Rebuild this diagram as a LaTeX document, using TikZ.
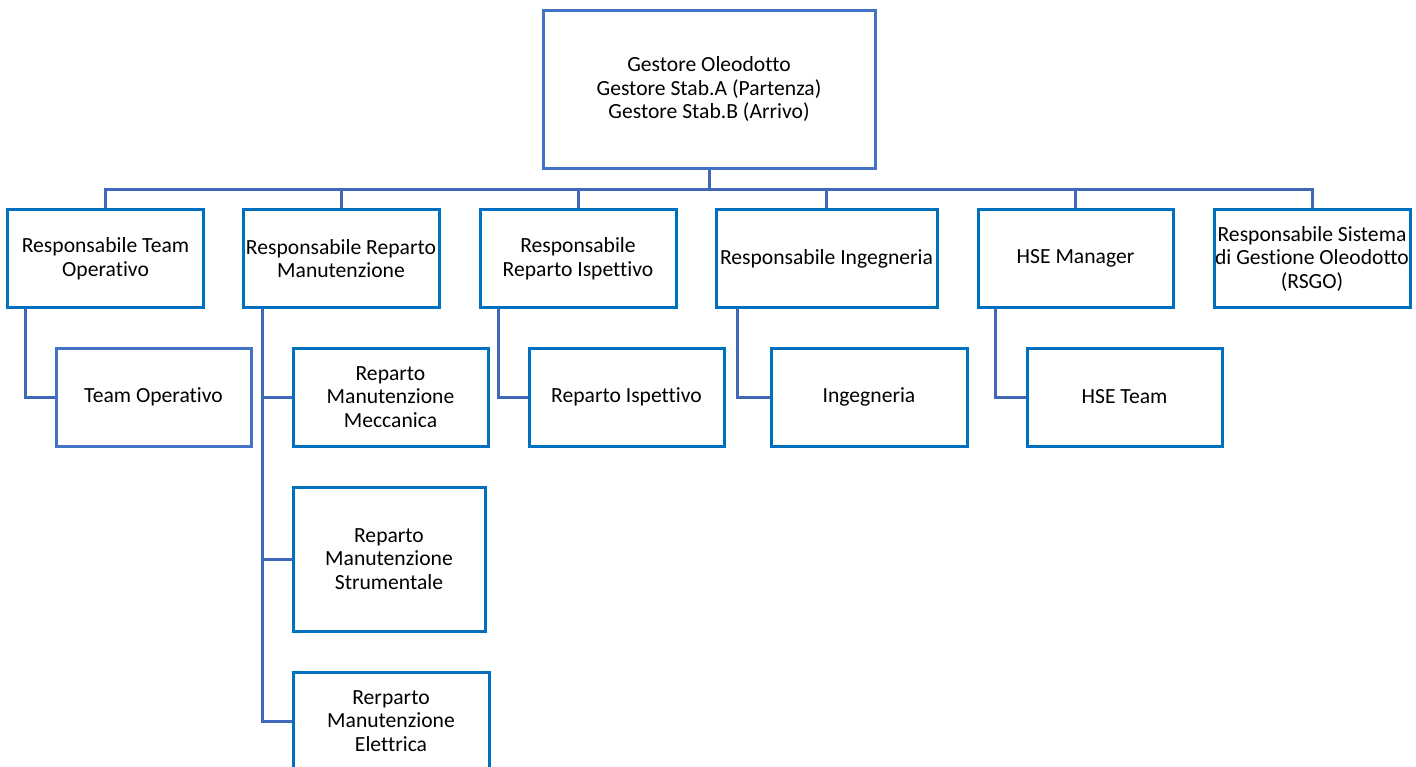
\documentclass[tikz,border=0pt]{standalone}
\usepackage{fontspec}
\setmainfont{Carlito}[Ligatures={NoCommon}]
\definecolor{headblue}{HTML}{4472C4}
\definecolor{boxblue}{HTML}{0070C0}
\definecolor{lineblue}{HTML}{4068B8}
\begin{document}
\begin{tikzpicture}[x=1pt,y=-1pt,
  orgbox/.style={draw=boxblue, line width=3pt, fill=white, inner sep=0pt,
    align=center, minimum width=196pt, minimum height=98pt,
    font=\fontsize{21.6}{23.5}\selectfont},
  headbox/.style={orgbox, draw=headblue},
  link/.style={draw=lineblue, line width=3pt}]
\useasboundingbox (0,0) rectangle (1416,766);
\clip (0,0) rectangle (1416,766);

% management
\node[headbox, minimum width=332pt, minimum height=158pt] (top) at (709,89)
  {Gestore Oleodotto\\Gestore Stab.A (Partenza)\\Gestore Stab.B (Arrivo)};

% first level
\node[orgbox] (r1) at (105.5,258.5) {Responsabile Team\\Operativo};
\node[orgbox] (r2) at (341,258.5) {Responsabile Reparto\\Manutenzione};
\node[orgbox] (r3) at (578,258.5) {Responsabile\\Reparto Ispettivo};
\node[orgbox, minimum width=221pt] (r4) at (826.5,258.5) {Responsabile Ingegneria};
\node[orgbox, minimum width=195pt] (r5) at (1075.5,258.5) {HSE Manager};
\node[orgbox] (r6) at (1312,258.5) {Responsabile Sistema\\di Gestione Oleodotto\\(RSGO)};

% second level
\node[headbox, minimum width=195pt] (c1) at (153.5,397) {Team Operativo};
\node[orgbox, minimum width=195pt] (c2) at (390.5,397) {Reparto\\Manutenzione\\Meccanica};
\node[orgbox, minimum width=192pt, minimum height=144pt] (c3) at (389,559) {Reparto\\Manutenzione\\Strumentale};
\node[orgbox] (c4) at (391,721) {Rerparto\\Manutenzione\\Elettrica};
\node[orgbox, minimum width=195pt] (c5) at (626.5,397) {Reparto Ispettivo};
\node[orgbox] (c6) at (869,397) {Ingegneria};
\node[orgbox, minimum width=195pt] (c7) at (1124.5,397) {HSE Team};

% connectors
\coordinate (bus) at (709,189);
\draw[link] (top.south) -- (bus);
\foreach \r in {r1,r2,r3,r4,r5,r6} \draw[link] (bus) -| (\r.north);

\draw[link] ([xshift=19pt]r1.south west) |- (c1.west);
\foreach \c in {c2,c3,c4} \draw[link] ([xshift=21pt]r2.south west) |- (\c.west);
\draw[link] ([xshift=20pt]r3.south west) |- (c5.west);
\draw[link] ([xshift=23pt]r4.south west) |- (c6.west);
\draw[link] ([xshift=19pt]r5.south west) |- (c7.west);
\end{tikzpicture}
\end{document}
